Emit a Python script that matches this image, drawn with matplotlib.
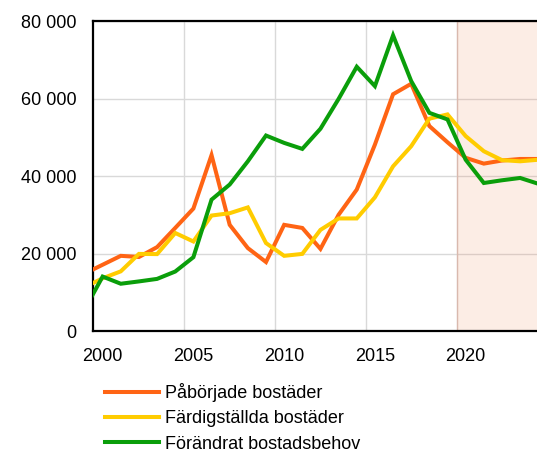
import numpy as np
import matplotlib
matplotlib.use("Agg")
import matplotlib.pyplot as plt
from matplotlib.ticker import FixedLocator, FuncFormatter

plt.rcParams['font.family'] = ['Liberation Sans', 'DejaVu Sans']

years = np.arange(1999, 2025)

paborjade = [14800, 17100, 19400, 19100, 21650, 26600, 31600, 45400, 27400,
             21400, 17800, 27400, 26600, 21200, 30000, 36500, 48100, 61100,
             63800, 52900, 48700, 44700, 43200, 44000, 44400, 44400]

fardigstallda = [11300, 13600, 15400, 19900, 19850, 25300, 23100, 29800, 30400,
                 31900, 22700, 19400, 19900, 26100, 29050, 29050, 34500, 42500,
                 47700, 54800, 55900, 50300, 46400, 44100, 43800, 44200]

behov = [5500, 14050, 12200, 12800, 13450, 15350, 19050, 33900, 37800,
         43800, 50450, 48550, 47000, 52200, 59900, 68200, 63200, 76300,
         64500, 56300, 54600, 44200, 38200, 38900, 39500, 38000]

labels = ["Påbörjade bostäder", "Färdigställda bostäder", "Förändrat bostadsbehov"]
colors = ["#ff6414", "#ffcc00", "#0a9e0a"]

fig = plt.figure(figsize=(5.37, 4.55), dpi=100)
ax = fig.add_axes([0.1732, 0.2725, 0.8268, 0.6813])

# prognosperiod
ax.axvspan(2019.5, 2030, facecolor=(0.94, 0.5, 0.3, 0.14),
           edgecolor=(0.85, 0.55, 0.45, 0.35), lw=1, zorder=1.5)

for vals, lab, col in zip([paborjade, fardigstallda, behov], labels, colors):
    ax.plot(years, vals, color=col, lw=2.9, label=lab, zorder=3,
            solid_joinstyle='miter')

ax.set_xlim(1999.47, 2023.93)
ax.set_ylim(0, 80000)

ax.xaxis.set_major_locator(FixedLocator([2000, 2005, 2010, 2015, 2020]))
ax.xaxis.set_minor_locator(FixedLocator([2004.5, 2009.5, 2014.5, 2019.5]))
ax.yaxis.set_major_locator(FixedLocator([0, 20000, 40000, 60000, 80000]))
ax.yaxis.set_major_formatter(FuncFormatter(lambda v, p: f"{int(v):,}".replace(",", " ")))

ax.grid(False)
ax.grid(True, which='minor', axis='x', color='#d9d9d9', lw=1, zorder=1)
ax.grid(True, which='major', axis='y', color='#d9d9d9', lw=1, zorder=1)
ax.set_axisbelow(True)

ax.tick_params(axis='both', which='both', length=0, labelsize=13, colors='black')
ax.tick_params(axis='y', pad=12)
ax.tick_params(axis='x', pad=12)

for s in ['left', 'bottom', 'top']:
    ax.spines[s].set_color('black')
    ax.spines[s].set_linewidth(1.6)
ax.spines['right'].set_visible(False)

fig.legend(loc='upper left', bbox_to_anchor=(105 / 537, 1 - 383 / 455),
           frameon=False, fontsize=13, handlelength=3.0, handletextpad=0.3,
           labelspacing=0.46, borderaxespad=0, borderpad=0)

fig.savefig("out.png", dpi=100)
